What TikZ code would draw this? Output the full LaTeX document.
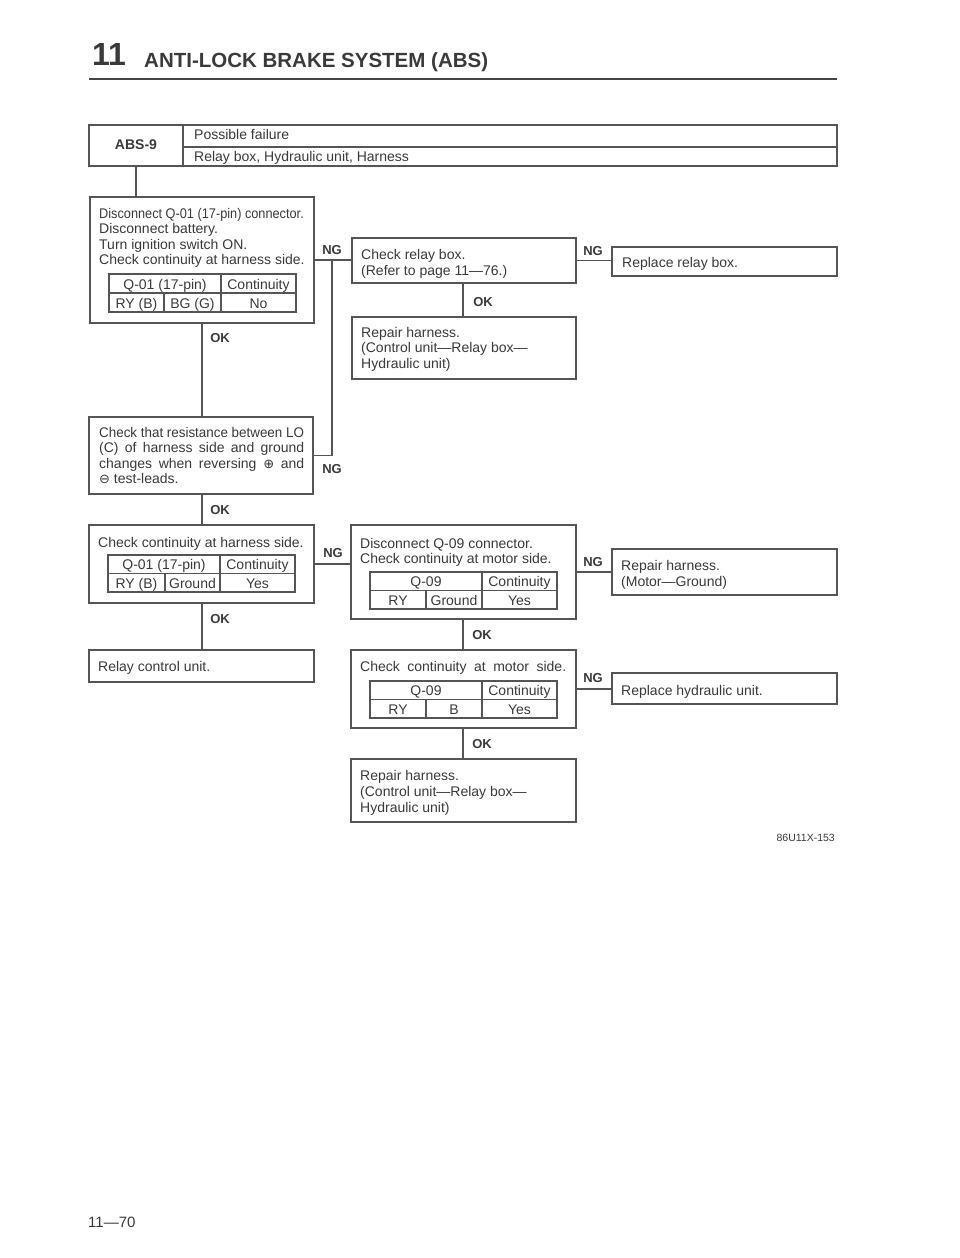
\documentclass[tikz,border=0pt]{standalone}
\usepackage{fontspec}
\usepackage{graphicx}
\setmainfont{Liberation Sans}
\newfontfamily\symf{DejaVu Sans}
\definecolor{ink}{HTML}{3A3A3A}
\definecolor{ln}{HTML}{555555}
\newcommand\sq[2]{\scalebox{#1}[1]{#2}}
\newcommand\pl{{\symf\fontsize{13}{13}\selectfont ⊕}}
\newcommand\mi{{\symf\fontsize{13}{13}\selectfont ⊖}}
\begin{document}
\begin{tikzpicture}[x=1pt,y=-1pt,
  box/.style={draw=ln, line width=1.3pt, inner sep=0pt, outer sep=0pt, rectangle, anchor=north west},
  t/.style={inner sep=0pt, anchor=base west, text=ink, font=\fontsize{14}{15.5}\selectfont},
  tc/.style={t, anchor=base},
  lbl/.style={inner sep=0pt, anchor=center, text=ink, font=\fontsize{13}{13}\selectfont\bfseries},
  conn/.style={draw=ln, line width=1.1pt},
  tab/.style={draw=ln, line width=1.1pt}]
\fill[white] (0,0) rectangle (960,1258);
\useasboundingbox (0,0) rectangle (960,1258);

% header
\node[inner sep=0pt, anchor=base west, text=ink, font=\fontsize{32}{32}\selectfont\bfseries] (hnum) at (92,65) {11};
\node[inner sep=0pt, anchor=base west, text=ink, font=\fontsize{20.5}{20.5}\selectfont\bfseries] (htitle) at (144,67) {ANTI-LOCK BRAKE SYSTEM (ABS)};
\draw[draw=ln!80!black, line width=2.6pt] (89,79) -- (837,79);

% ABS-9 box
\node[box, minimum width=748pt, minimum height=41pt] (abs) at (89,125) {};
\draw[tab] (183,125) -- (183,166);
\draw[tab] (183,147) -- (837,147);
\node[inner sep=0pt, text=ink, font=\fontsize{14}{14}\selectfont\bfseries] (abst) at (136,145) {ABS-9};
\node[t] (pf) at (194,139) {Possible failure};
\node[t] (pfl) at (194,161) {Relay box, Hydraulic unit, Harness};

% boxes
\node[box, minimum width=224pt, minimum height=126pt] (b1) at (90,197) {};
\node[box, minimum width=224pt, minimum height=77pt] (b2) at (89,417) {};
\node[box, minimum width=225pt, minimum height=78pt] (b3) at (89,525) {};
\node[box, minimum width=225pt, minimum height=32pt] (b4) at (89,650) {};
\node[box, minimum width=224pt, minimum height=45pt] (cr) at (352,238) {};
\node[box, minimum width=224pt, minimum height=62pt] (r1) at (352,317) {};
\node[box, minimum width=225pt, minimum height=29pt] (rr) at (612,247) {};
\node[box, minimum width=225pt, minimum height=94pt] (b5) at (351,525) {};
\node[box, minimum width=225pt, minimum height=46pt] (b6) at (612,549) {};
\node[box, minimum width=225pt, minimum height=78pt] (b7) at (351,650) {};
\node[box, minimum width=225pt, minimum height=31pt] (b8) at (612,673) {};
\node[box, minimum width=225pt, minimum height=63pt] (b9) at (351,759) {};

% b1 text and table
\node[t] (b1a) at (99,218) {\sq{0.91}{Disconnect Q-01 (17-pin) connector.}};
\node[t] (b1b) at (99,233.5) {Disconnect battery.};
\node[t] (b1c) at (99,249) {Turn ignition switch ON.};
\node[t] (b1d) at (99,264.5) {Check continuity at harness side.};
\draw[tab] (109,274) rectangle (296,312);
\draw[tab] (109,293) -- (296,293);
\draw[tab] (221,274) -- (221,312);
\draw[tab] (164,293) -- (164,312);
\node[tc] (b1t1) at (165,289) {Q-01 (17-pin)};
\node[tc] (b1t2) at (258.5,289) {Continuity};
\node[tc] (b1t3) at (136.5,308) {RY (B)};
\node[tc] (b1t4) at (192.5,308) {BG (G)};
\node[tc] (b1t5) at (258.5,308) {No};

% b2 text
\node[t] (b2a) at (99,437) {\sq{0.957}{Check that resistance between LO}};
\node[t] (b2b) at (99,452.5) {\makebox[205pt][s]{(C) of harness side and ground}};
\node[t] (b2c) at (99,468) {\makebox[205pt][s]{changes when reversing \pl\ and}};
\node[t] (b2d) at (99,483.5) {\mi\ test-leads.};

% b3 text and table
\node[t] (b3a) at (98,547) {Check continuity at harness side.};
\draw[tab] (108,555) rectangle (295,592);
\draw[tab] (108,573.5) -- (295,573.5);
\draw[tab] (220,555) -- (220,592);
\draw[tab] (165,573.5) -- (165,592);
\node[tc] (b3t1) at (164,569) {Q-01 (17-pin)};
\node[tc] (b3t2) at (257.5,569) {Continuity};
\node[tc] (b3t3) at (136.5,588) {RY (B)};
\node[tc] (b3t4) at (192.5,588) {Ground};
\node[tc] (b3t5) at (257.5,588) {Yes};

% b4
\node[t] (b4a) at (98,671) {Relay control unit.};

% cr, r1, rr
\node[t] (cra) at (361,259) {Check relay box.};
\node[t] (crb) at (361,275) {(Refer to page 11—76.)};
\node[t] (r1a) at (361,337) {Repair harness.};
\node[t] (r1b) at (361,352.5) {(Control unit—Relay box—};
\node[t] (r1c) at (361,368) {Hydraulic unit)};
\node[t] (rra) at (622,267) {Replace relay box.};

% b5
\node[t] (b5a) at (360,548) {Disconnect Q-09 connector.};
\node[t] (b5b) at (360,563) {Check continuity at motor side.};
\draw[tab] (370,572) rectangle (557,609);
\draw[tab] (370,590.5) -- (557,590.5);
\draw[tab] (482,572) -- (482,609);
\draw[tab] (426,590.5) -- (426,609);
\node[tc] (b5t1) at (426,586) {Q-09};
\node[tc] (b5t2) at (519.5,586) {Continuity};
\node[tc] (b5t3) at (398,605) {RY};
\node[tc] (b5t4) at (454,605) {Ground};
\node[tc] (b5t5) at (519.5,605) {Yes};

% b6
\node[t] (b6a) at (621,570) {Repair harness.};
\node[t] (b6b) at (621,586) {(Motor—Ground)};

% b7
\node[t] (b7a) at (360,671) {\makebox[206pt][s]{Check continuity at motor side.}};
\draw[tab] (370,681) rectangle (557,718);
\draw[tab] (370,699.5) -- (557,699.5);
\draw[tab] (482,681) -- (482,718);
\draw[tab] (426,699.5) -- (426,718);
\node[tc] (b7t1) at (426,695) {Q-09};
\node[tc] (b7t2) at (519.5,695) {Continuity};
\node[tc] (b7t3) at (398,714) {RY};
\node[tc] (b7t4) at (454,714) {B};
\node[tc] (b7t5) at (519.5,714) {Yes};

% b8
\node[t] (b8a) at (621,695) {Replace hydraulic unit.};

% b9
\node[t] (b9a) at (360,780) {Repair harness.};
\node[t] (b9b) at (360,796) {(Control unit—Relay box—};
\node[t] (b9c) at (360,812) {Hydraulic unit)};

% connectors
\coordinate (j1) at (332,260);
\draw[conn] ([xshift=47pt]abs.south west) -- ([xshift=46pt]b1.north west);
\draw[conn] ([xshift=112pt]b1.south west) -- ([xshift=113pt]b2.north west);
\draw[conn] ([xshift=113pt]b2.south west) -- ([xshift=113pt]b3.north west);
\draw[conn] ([xshift=113pt]b3.south west) -- ([xshift=113pt]b4.north west);
\draw[conn] (b1.east) -- (b1.east -| cr.west);
\draw[conn] (b2.east) -| (j1);
\draw[conn] ([xshift=111pt]cr.south west) -- ([xshift=111pt]r1.north west);
\draw[conn] (cr.east) -- (cr.east -| rr.west);
\draw[conn] (b3.east) -- (b3.east -| b5.west);
\draw[conn] (b5.east) -- (b5.east -| b6.west);
\draw[conn] ([xshift=112pt]b5.south west) -- ([xshift=112pt]b7.north west);
\draw[conn] (b7.east) -- (b7.east -| b8.west);
\draw[conn] ([xshift=112pt]b7.south west) -- ([xshift=112pt]b9.north west);

% labels
\node[lbl] (ng1) at (332,250) {NG};
\node[lbl] (ng2) at (332,469) {NG};
\node[lbl] (ng3) at (593,251) {NG};
\node[lbl] (ng4) at (333,553) {NG};
\node[lbl] (ng5) at (593,562) {NG};
\node[lbl] (ng6) at (593,678) {NG};
\node[lbl] (ok1) at (220,338) {OK};
\node[lbl] (ok2) at (220,510) {OK};
\node[lbl] (ok3) at (220,619) {OK};
\node[lbl] (ok4) at (483,302) {OK};
\node[lbl] (ok5) at (482,635) {OK};
\node[lbl] (ok6) at (482,744) {OK};

% footer
\node[inner sep=0pt, anchor=base east, text=ink, font=\fontsize{10.5}{10.5}\selectfont] (code) at (835,841) {86U11X-153};
\node[inner sep=0pt, anchor=base west, text=ink, font=\fontsize{15}{15}\selectfont] (pg) at (88,1227) {11—70};
\end{tikzpicture}
\end{document}
